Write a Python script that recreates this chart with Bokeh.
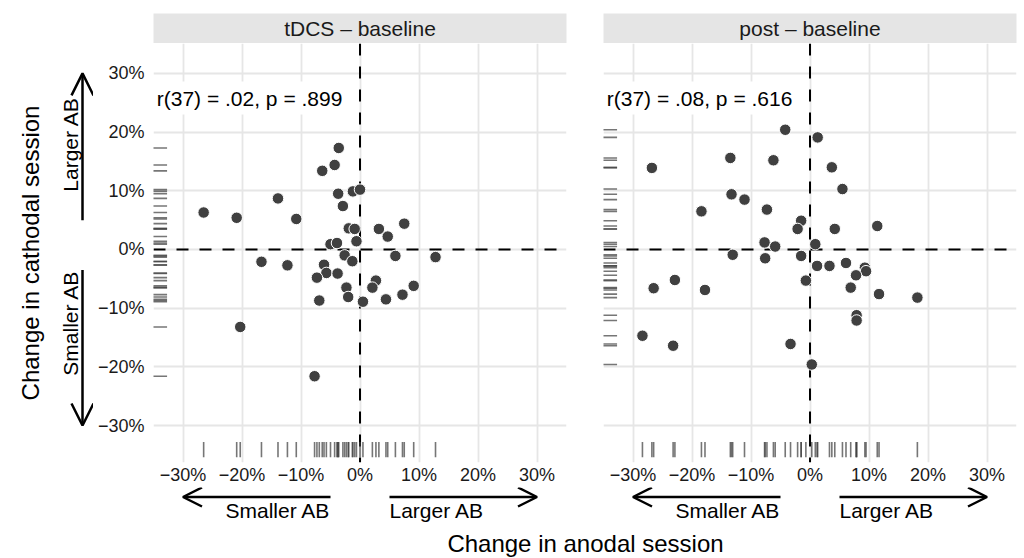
import math
from bokeh.plotting import figure
from bokeh.models import Range1d, FixedTicker, Span, Label, Arrow, OpenHead, Grid
from bokeh.layouts import column, row
from bokeh.embed import file_html
from bokeh.resources import INLINE
from bokeh.core.properties import value

# ---------------- data ----------------
panel_titles = ["tDCS – baseline", "post – baseline"]
stats_text = ["r(37) = .02, p = .899", "r(37) = .08, p = .616"]

# tDCS - baseline: change in anodal (x) and cathodal (y) session, in %
tdcs_anodal = [-3.6, -4.3, -6.4, -13.9, -3.7, -1.2, 0.0, -2.9, -10.8, -1.9,
               -0.9, 3.2, 4.7, 7.5, -0.6, -5.0, -3.9, -2.6, -1.3, 6.0,
               12.8, -12.3, -6.1, -5.7, -7.3, -3.8, -2.3, 2.7, 2.1, -2.0,
               -6.9, 0.5, 4.4, 7.2, 9.1, -26.5, -20.9, -16.7, -20.3, -7.7]
tdcs_cathodal = [17.3, 14.4, 13.4, 8.7, 9.5, 9.9, 10.2, 7.4, 5.2, 3.6,
                 3.5, 3.5, 2.2, 4.4, 1.4, 0.9, 1.1, -1.0, -2.0, -1.1,
                 -1.3, -2.7, -2.6, -4.0, -4.8, -4.1, -6.5, -5.3, -6.5, -8.1,
                 -8.7, -8.9, -8.5, -7.7, -6.2, 6.3, 5.4, -2.1, -13.2, -21.6]

# post - baseline
post_anodal = [-4.2, 1.3, -13.5, -6.2, 3.7, 5.5, -13.3, -11.1, -18.4, -7.3,
               -1.5, -2.1, 4.2, 11.4, -7.7, -5.9, 0.9, -13.1, -7.6, -1.5,
               1.2, 3.3, 6.1, 9.3, 9.5, 7.8, 6.9, -0.7, -17.8, 11.7,
               -26.8, -26.5, -22.9, 7.9, 7.9, -28.4, -23.2, -3.3, 0.3, 18.2]
post_cathodal = [20.4, 19.1, 15.6, 15.2, 14.0, 10.3, 9.4, 8.5, 6.5, 6.8,
                 4.9, 3.5, 3.5, 4.0, 1.2, 0.5, 0.9, -0.9, -1.5, -1.1,
                 -2.8, -2.8, -2.3, -3.1, -3.7, -4.4, -6.5, -5.3, -6.9, -7.6,
                 13.9, -6.6, -5.2, -11.2, -12.1, -14.7, -16.4, -16.1, -19.6, -8.2]

tick_values = [-30, -20, -10, 0, 10, 20, 30]
tick_labels = ["−30%", "−20%", "−10%", "0%", "10%", "20%", "30%"]
x_title = "Change in anodal session"
y_title = "Change in cathodal session"
arrow_texts = ["Smaller AB", "Larger AB"]

# ---------------- style / layout ----------------
FONT = "Liberation Sans"
X_LIM = (-35, 35)
Y_LIM = (-36.3, 35.1)
GRID_COLOR = "#e6e6e6"
STRIP_COLOR = "#e5e5e5"
POINT_COLOR = "#404040"
RUG_COLOR = "#3c3c3c"
TICK_FS = "18px"
TEXT_FS = "21px"
TITLE_FS = "24px"

DECO_W = 93                 # left decoration column (y title, arrows)
LEFT_W, RIGHT_W = 491, 439  # panel columns
LB = {True: 60, False: 19}  # left borders
RB = {True: 18, False: 7}   # right borders
STRIP_H, STRIP_TOP = 43, 13
FRAME_H = 419
PANEL_H = FRAME_H + 25
BOTTOM_H = 37
TITLE_H = 33


def clean(fig):
    fig.center = [r for r in fig.center if not isinstance(r, Grid)]
    fig.outline_line_color = None
    fig.border_fill_color = "white"
    fig.background_fill_color = "white"
    return fig


def strip_fig(title, is_left):
    s = figure(width=LEFT_W if is_left else RIGHT_W, height=STRIP_H,
               x_range=Range1d(*X_LIM), y_range=Range1d(0, 1),
               x_axis_location=None, y_axis_location=None,
               output_backend="svg", toolbar_location=None,
               min_border_left=LB[is_left], min_border_right=RB[is_left],
               min_border_top=STRIP_TOP, min_border_bottom=0)
    clean(s)
    s.background_fill_color = STRIP_COLOR
    s.text(x=[0], y=[0.5], text=[title], text_align="center", text_baseline="middle",
           text_font=value(FONT), text_font_size=TEXT_FS, text_color="#1a1a1a")
    return s


def panel_fig(xs, ys, stat, is_left):
    p = figure(width=LEFT_W if is_left else RIGHT_W, height=PANEL_H,
               x_range=Range1d(*X_LIM), y_range=Range1d(*Y_LIM),
               x_axis_location="below", y_axis_location="left" if is_left else None,
               output_backend="svg", toolbar_location=None,
               min_border_left=LB[is_left], min_border_right=RB[is_left],
               min_border_top=0, min_border_bottom=PANEL_H - FRAME_H)
    clean(p)

    for dim in (0, 1):
        p.add_layout(Grid(dimension=dim, ticker=FixedTicker(ticks=tick_values),
                          grid_line_color=GRID_COLOR, grid_line_width=1.8))

    overrides = {v: l for v, l in zip(tick_values, tick_labels)}
    axes = list(p.xaxis) + (list(p.yaxis) if is_left else [])
    for ax in axes:
        ax.ticker = FixedTicker(ticks=tick_values)
        ax.major_label_overrides = overrides
        ax.axis_line_color = None
        ax.major_tick_line_color = None
        ax.minor_tick_line_color = None
        ax.major_tick_out = 0
        ax.major_tick_in = 0
        ax.minor_tick_out = 0
        ax.minor_tick_in = 0
        ax.major_label_text_font = FONT
        ax.major_label_text_font_size = TICK_FS
        ax.major_label_text_color = "#1a1a1a"
    p.xaxis.major_label_standoff = 2
    if is_left:
        p.yaxis.major_label_standoff = 9

    # reference lines
    for dim in ("width", "height"):
        p.add_layout(Span(location=0, dimension=dim, line_color="black", line_width=2,
                          line_dash="12 11", level="underlay"))

    # rugs
    p.segment(x0=xs, x1=xs, y0=[-32.8] * len(xs), y1=[-35.4] * len(xs),
              line_color=RUG_COLOR, line_alpha=0.7, line_width=1.6)
    p.segment(x0=[-35.2] * len(ys), x1=[-32.7] * len(ys), y0=ys, y1=ys,
              line_color=RUG_COLOR, line_alpha=0.7, line_width=1.6)

    # points
    p.scatter(xs, ys, size=11.5, fill_color=POINT_COLOR, line_color="white", line_width=1)

    # stats label
    p.add_layout(Label(x=-35.3, y=25.8, text=stat, text_font=FONT, text_font_size=TEXT_FS,
                       text_baseline="middle", text_align="left", text_color="black",
                       background_fill_color="white", padding=5))
    return p


def bottom_fig(is_left):
    b = figure(width=LEFT_W if is_left else RIGHT_W, height=BOTTOM_H,
               x_range=Range1d(*X_LIM), y_range=Range1d(0, BOTTOM_H),
               x_axis_location=None, y_axis_location=None,
               output_backend="svg", toolbar_location=None,
               min_border_left=LB[is_left], min_border_right=RB[is_left],
               min_border_top=0, min_border_bottom=0)
    clean(b)
    ya = 27.5
    for x0, x1 in ((-5, -30), (5, 30)):
        b.add_layout(Arrow(end=OpenHead(size=19, line_width=2.5, line_color="black"),
                           x_start=x0, y_start=ya, x_end=x1, y_end=ya,
                           line_width=2.5, line_color="black"))
    b.add_layout(Label(x=-5, y=14, text=arrow_texts[0], text_font=FONT, text_font_size=TEXT_FS,
                       text_align="right", text_baseline="middle", text_color="black"))
    b.add_layout(Label(x=5, y=14, text=arrow_texts[1], text_font=FONT, text_font_size=TEXT_FS,
                       text_align="left", text_baseline="middle", text_color="black"))
    return b


def deco_fig():
    d = figure(width=DECO_W, height=STRIP_H + PANEL_H + BOTTOM_H,
               x_range=Range1d(0, DECO_W), y_range=Range1d(*Y_LIM),
               x_axis_location=None, y_axis_location=None,
               output_backend="svg", toolbar_location=None,
               min_border_left=0, min_border_right=0,
               min_border_top=STRIP_H, min_border_bottom=PANEL_H - FRAME_H + BOTTOM_H)
    clean(d)
    xa = 82
    d.add_layout(Arrow(end=OpenHead(size=22, line_width=2.5, line_color="black"),
                       x_start=xa, y_start=5, x_end=xa, y_end=30,
                       line_width=2.5, line_color="black"))
    d.add_layout(Arrow(end=OpenHead(size=22, line_width=2.5, line_color="black"),
                       x_start=xa, y_start=-3.5, x_end=xa, y_end=-30,
                       line_width=2.5, line_color="black"))
    d.add_layout(Label(x=70, y=17.9, text=arrow_texts[1], angle=math.pi / 2,
                       text_font=FONT, text_font_size=TEXT_FS, text_align="center",
                       text_baseline="middle", text_color="black"))
    d.add_layout(Label(x=70, y=-3.6, text=arrow_texts[0], angle=math.pi / 2,
                       text_font=FONT, text_font_size=TEXT_FS, text_align="right",
                       text_baseline="middle", text_color="black"))
    d.add_layout(Label(x=30, y=-0.6, text=y_title, angle=math.pi / 2,
                       text_font=FONT, text_font_size=TITLE_FS, text_align="center",
                       text_baseline="middle", text_color="black"))
    return d


left_col = column(strip_fig(panel_titles[0], True),
                  panel_fig(tdcs_anodal, tdcs_cathodal, stats_text[0], True),
                  bottom_fig(True))
right_col = column(strip_fig(panel_titles[1], False),
                   panel_fig(post_anodal, post_cathodal, stats_text[1], False),
                   bottom_fig(False))

total_w = DECO_W + LEFT_W + RIGHT_W
t = figure(width=total_w, height=TITLE_H,
           x_range=Range1d(0, total_w), y_range=Range1d(0, TITLE_H),
           x_axis_location=None, y_axis_location=None,
           output_backend="svg", toolbar_location=None,
           min_border_left=0, min_border_right=0, min_border_top=0, min_border_bottom=0)
clean(t)
t.text(x=[585], y=[TITLE_H - 19], text=[x_title], text_align="center", text_baseline="middle",
       text_font=value(FONT), text_font_size=TITLE_FS, text_color="black")

layout = column(row(deco_fig(), left_col, right_col), t)

open("out.html", "w").write(file_html(layout, INLINE))
